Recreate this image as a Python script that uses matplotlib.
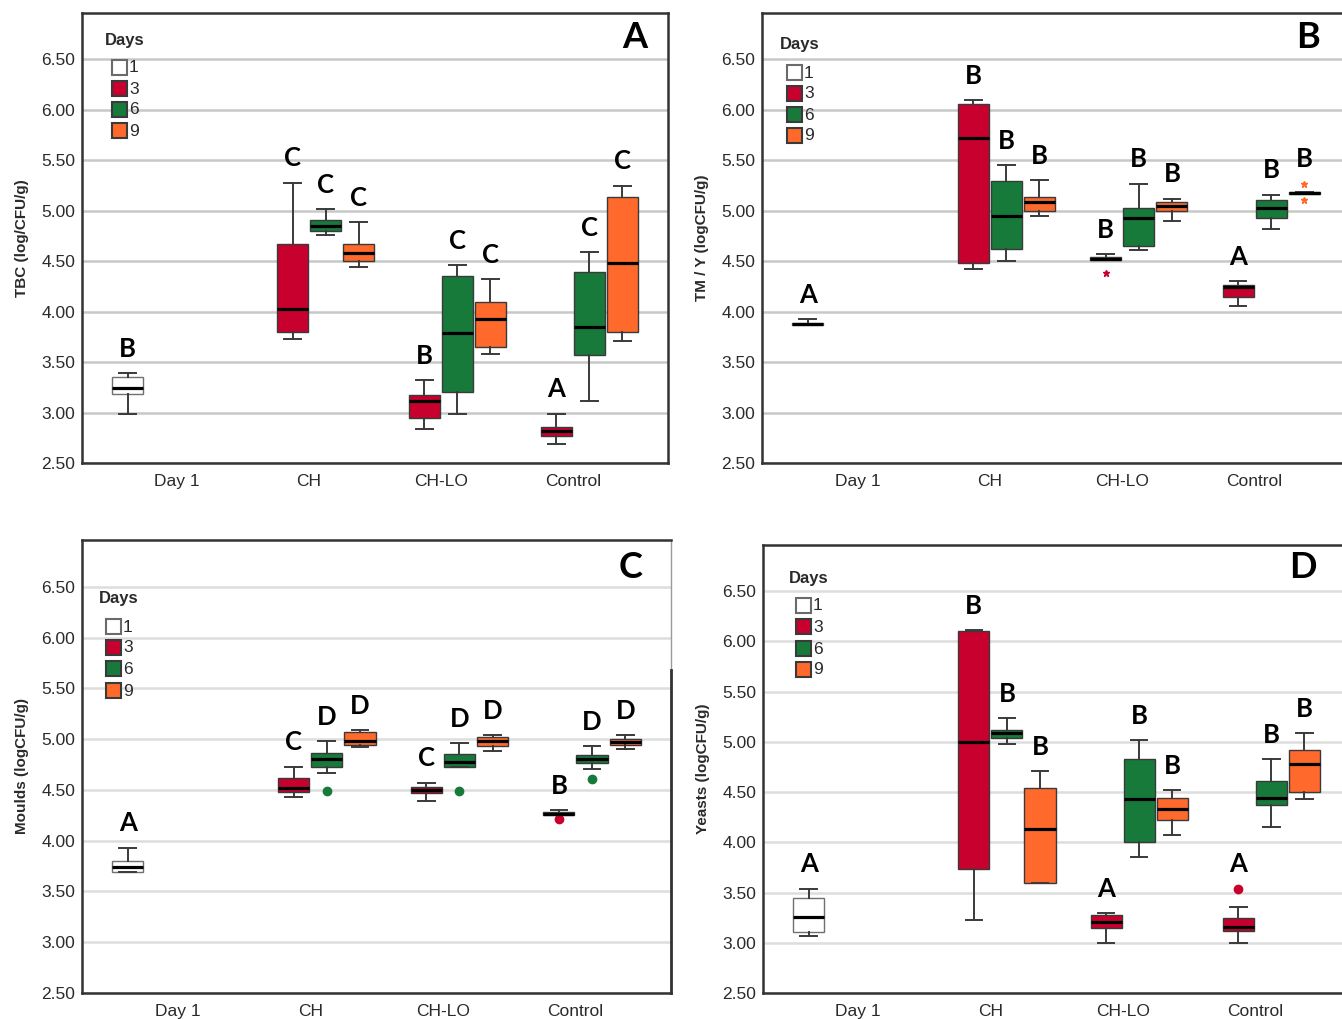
import matplotlib
matplotlib.use('Agg')
import matplotlib.pyplot as plt
from matplotlib.patches import Rectangle

# ---------------- data ----------------
categories = ['Day 1', 'CH', 'CH-LO', 'Control']
days = ['1', '3', '6', '9']
box_category = [0, 1, 1, 1, 2, 2, 2, 3, 3, 3]
box_day = ['1', '3', '6', '9', '3', '6', '9', '3', '6', '9']
yticks = [2.5, 3.0, 3.5, 4.0, 4.5, 5.0, 5.5, 6.0, 6.5]

# Panel A - TBC
tbc_low  = [2.99, 3.73, 4.76, 4.44, 2.84, 2.99, 3.58, 2.69, 3.11, 3.71]
tbc_q1   = [3.18, 3.80, 4.80, 4.50, 2.95, 3.20, 3.65, 2.77, 3.57, 3.80]
tbc_med  = [3.24, 4.03, 4.85, 4.58, 3.11, 3.79, 3.93, 2.82, 3.85, 4.48]
tbc_q3   = [3.35, 4.67, 4.91, 4.67, 3.17, 4.35, 4.10, 2.86, 4.39, 5.14]
tbc_high = [3.39, 5.28, 5.02, 4.89, 3.32, 4.46, 4.32, 2.99, 4.59, 5.25]
tbc_fliers = [[], [], [], [], [], [], [], [], [], []]
tbc_letters = ['B', 'C', 'C', 'C', 'B', 'C', 'C', 'A', 'C', 'C']

# Panel B - TM / Y
tmy_low  = [3.87, 4.42, 4.50, 4.95, 4.51, 4.61, 4.90, 4.06, 4.82, 5.17]
tmy_q1   = [3.87, 4.48, 4.62, 5.00, 4.51, 4.65, 5.00, 4.15, 4.93, 5.17]
tmy_med  = [3.88, 5.72, 4.95, 5.09, 4.52, 4.93, 5.05, 4.24, 5.03, 5.18]
tmy_q3   = [3.89, 6.06, 5.29, 5.14, 4.54, 5.03, 5.09, 4.26, 5.11, 5.19]
tmy_high = [3.93, 6.10, 5.45, 5.30, 4.57, 5.27, 5.12, 4.30, 5.16, 5.19]
tmy_fliers = [[], [], [], [], [4.38], [], [], [], [], [5.27, 5.11]]
tmy_letters = ['A', 'B', 'B', 'B', 'B', 'B', 'B', 'A', 'B', 'B']

# Panel C - Moulds
mou_low  = [3.69, 4.43, 4.67, 4.92, 4.39, 4.73, 4.88, 4.25, 4.71, 4.90]
mou_q1   = [3.69, 4.48, 4.73, 4.94, 4.47, 4.73, 4.93, 4.25, 4.76, 4.94]
mou_med  = [3.74, 4.52, 4.80, 4.98, 4.50, 4.77, 4.98, 4.26, 4.80, 4.97]
mou_q3   = [3.80, 4.62, 4.86, 5.07, 4.53, 4.85, 5.02, 4.28, 4.84, 5.00]
mou_high = [3.93, 4.73, 4.98, 5.09, 4.57, 4.96, 5.04, 4.30, 4.93, 5.04]
mou_fliers = [[], [], [4.49], [], [], [4.49], [], [4.21], [4.61], []]
mou_letters = ['A', 'C', 'D', 'D', 'C', 'D', 'D', 'B', 'D', 'D']

# Panel D - Yeasts
yea_low  = [3.07, 3.23, 4.98, 3.60, 3.00, 3.85, 4.07, 3.00, 4.15, 4.43]
yea_q1   = [3.11, 3.73, 5.04, 3.60, 3.15, 4.00, 4.22, 3.12, 4.37, 4.50]
yea_med  = [3.26, 5.00, 5.09, 4.13, 3.21, 4.43, 4.33, 3.16, 4.44, 4.78]
yea_q3   = [3.45, 6.10, 5.12, 4.54, 3.28, 4.83, 4.44, 3.25, 4.61, 4.92]
yea_high = [3.54, 6.11, 5.24, 4.71, 3.30, 5.02, 4.52, 3.36, 4.83, 5.09]
yea_fliers = [[], [], [], [], [], [], [], [3.54], [], []]
yea_letters = ['A', 'B', 'B', 'B', 'A', 'B', 'B', 'A', 'B', 'B']

# ---------------- style ----------------
day_colors = {'1': '#FFFFFF', '3': '#C8002E', '6': '#177A3A', '9': '#FF6A2C'}
day_offset = {'1': -0.375, '3': -0.125, '6': 0.125, '9': 0.375}
FRAME = '#333333'
TXT = '#2a2a2a'

W, H = 1342, 1019
fig = plt.figure(figsize=(W / 100, H / 100), dpi=100)
fig.patch.set_facecolor('white')


def add_ax(l, t, r, b):
    return fig.add_axes([l / W, 1 - b / H, (r - l) / W, (b - t) / H])


def fig_rect(x, y, s, color, edge):
    fig.add_artist(Rectangle((x / W, 1 - (y + s / 2) / H), s / W, s / H,
                             transform=fig.transFigure, facecolor=color,
                             edgecolor=edge, linewidth=1.5))


def draw_legend(x_title, y_title, x_sq, y_rows):
    fig.text(x_title / W, 1 - y_title / H, 'Days', ha='left', va='center',
             fontsize=12, fontweight='bold', family='Liberation Sans', color=TXT)
    for d, yr in zip(days, y_rows):
        edge = '#6a6a6a' if d == '1' else '#3a3a3a'
        fig_rect(x_sq, yr, 15, day_colors[d], edge)
        fig.text((x_sq + 17) / W, 1 - (yr + 1) / H, d, ha='left', va='center',
                 fontsize=12.5, family='Liberation Sans', color=TXT)


def draw_panel(ax, low, q1, med, q3, high, fliers, letters, ylabel, panel,
               panel_off, marker, msize, grid_color, label_x):
    stats = []
    for lo, a, m, b, hi, f in zip(low, q1, med, q3, high, fliers):
        stats.append(dict(whislo=lo, q1=a, med=m, q3=b, whishi=hi, fliers=f))
    pos = [c + day_offset[d] for c, d in zip(box_category, box_day)]
    res = ax.bxp(stats, positions=pos, widths=0.235, capwidths=0.125,
                 patch_artist=True, showfliers=True, zorder=3,
                 boxprops=dict(linewidth=1.0, edgecolor='#3a3a3a'),
                 medianprops=dict(color='black', linewidth=2.3),
                 whiskerprops=dict(color='#3a3a3a', linewidth=1.4),
                 capprops=dict(color='#3a3a3a', linewidth=1.4),
                 flierprops=dict(marker=marker, markersize=msize, linestyle='none'))
    for patch, d in zip(res['boxes'], box_day):
        patch.set_facecolor(day_colors[d])
        if d == '1':
            patch.set_edgecolor('#707070')
    for fl, d in zip(res['fliers'], box_day):
        fl.set_markerfacecolor(day_colors[d])
        fl.set_markeredgecolor(day_colors[d])

    for p, hi, f, let in zip(pos, high, fliers, letters):
        top = max([hi] + list(f))
        ax.text(p, top + 0.24, let, ha='center', va='center', fontsize=18.5,
                fontweight='bold', family='Lato', color='black', zorder=5)

    ax.set_xlim(-0.72, 3.72)
    ax.set_ylim(2.5, 6.96)
    ax.set_yticks(yticks)
    ax.set_yticklabels(['%.2f' % v for v in yticks])
    ax.set_xticks(range(len(categories)))
    ax.set_xticklabels(categories)
    ax.tick_params(axis='both', length=0, labelsize=12.5, colors=TXT)
    ax.tick_params(axis='y', pad=5)
    ax.tick_params(axis='x', pad=8)
    for lab in ax.get_xticklabels() + ax.get_yticklabels():
        lab.set_family('Liberation Sans')
    ax.yaxis.grid(True, color=grid_color, linewidth=1.8)
    ax.set_axisbelow(True)
    for sp in ax.spines.values():
        sp.set_color(FRAME)
        sp.set_linewidth(1.8)
    ax.set_ylabel(ylabel, fontsize=11, fontweight='bold',
                  family='Liberation Sans', color=TXT)
    ax.yaxis.set_label_coords(label_x, 0.5)
    ax.annotate(panel, xy=(1, 1), xycoords='axes fraction', xytext=panel_off,
                textcoords='offset pixels', ha='center', va='center',
                fontsize=26, fontweight='bold', family='Lato', color='black')


axA = add_ax(82, 13, 668, 463)
axB = add_ax(762, 13, 1350, 463)
axC = add_ax(82, 540, 671, 993)
axD = add_ax(763, 545, 1350, 993)

draw_panel(axA, tbc_low, tbc_q1, tbc_med, tbc_q3, tbc_high, tbc_fliers,
           tbc_letters, 'TBC (log/CFU/g)', 'A', (-33, -25), 'o', 5,
           '#C8C8C8', -0.09)
draw_panel(axB, tmy_low, tmy_q1, tmy_med, tmy_q3, tmy_high, tmy_fliers,
           tmy_letters, 'TM / Y (logCFU/g)', 'B', (-42, -25), '*', 5,
           '#C8C8C8', -0.09)
draw_panel(axC, mou_low, mou_q1, mou_med, mou_q3, mou_high, mou_fliers,
           mou_letters, 'Moulds (logCFU/g)', 'C', (-40, -27), 'o', 6,
           '#DDDDDD', -0.09)
draw_panel(axD, yea_low, yea_q1, yea_med, yea_q3, yea_high, yea_fliers,
           yea_letters, 'Yeasts (logCFU/g)', 'D', (-47, -22), 'o', 6,
           '#DDDDDD', -0.09)

# panel C: right frame thin/grey in its upper part
axC.spines['right'].set_color('#9a9a9a')
axC.spines['right'].set_linewidth(1.0)
axC.plot([1, 1], [0, 0.713], transform=axC.transAxes, color=FRAME,
         linewidth=2.0, clip_on=False, zorder=6)

draw_legend(105, 40, 112, [67, 88, 109, 130])
draw_legend(780, 45, 787, [72, 93, 114, 135])
draw_legend(99, 599, 106, [626, 647, 668, 690])
draw_legend(789, 579, 796, [605, 626, 648, 669])

fig.savefig('out.png', dpi=100, facecolor='white')
